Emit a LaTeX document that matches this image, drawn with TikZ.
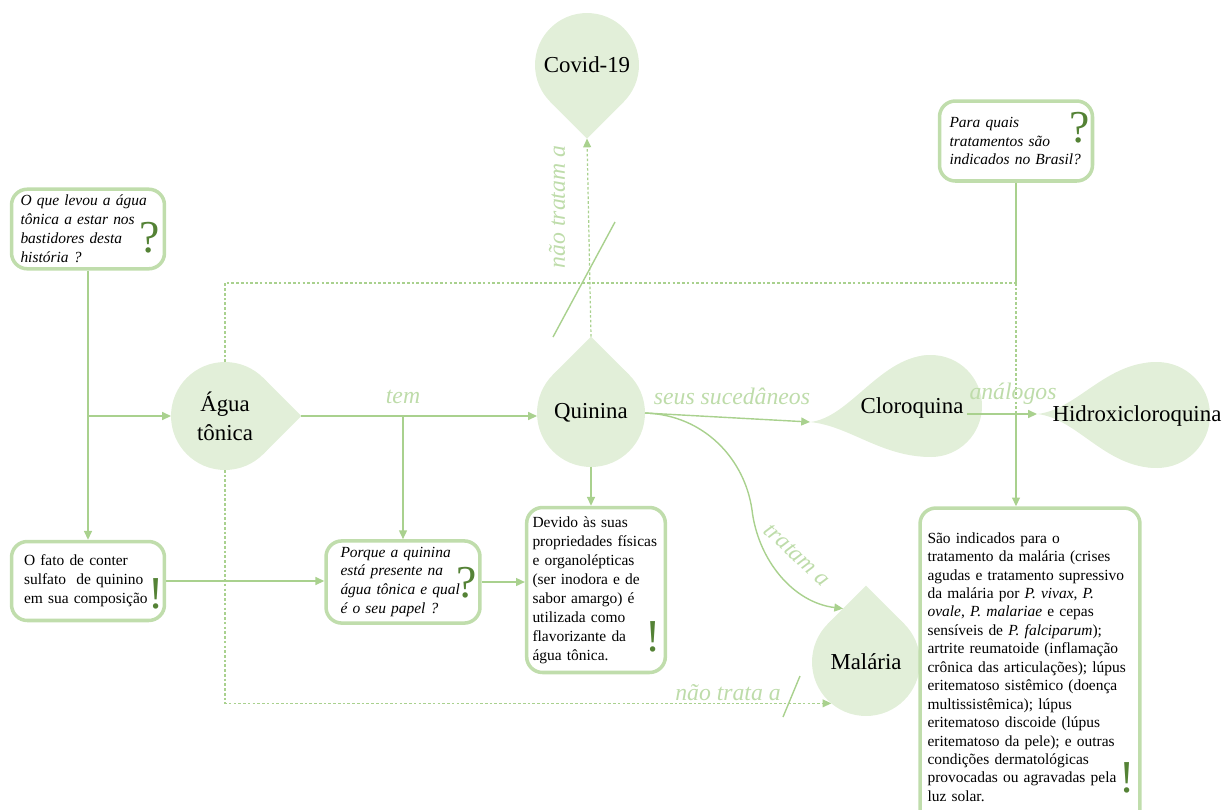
\documentclass[tikz,border=0pt]{standalone}
\usepackage{fontspec}
\setmainfont{Liberation Serif}
\usepackage{xcolor}
\usepackage{tikz}
\usetikzlibrary{arrows.meta, calc, backgrounds}

\definecolor{dropfill}{RGB}{226,239,217}
\definecolor{boxline}{RGB}{192,221,172}
\definecolor{linegreen}{RGB}{169,209,142}
\definecolor{lblgreen}{RGB}{190,220,170}
\definecolor{markgreen}{RGB}{84,130,53}

\begin{document}
\begin{tikzpicture}[x=0.02cm, y=-0.02cm,
    drop/.style={circle, fill=dropfill, inner sep=0pt, outer sep=0pt, align=center, font=\fontsize{13}{16.4}\selectfont},
    dtxt/.style={inner sep=2pt, font=\fontsize{13}{16}\selectfont},
    qbox/.style={draw=boxline, line width=2pt, rounded corners=9pt, fill=white, align=left, font=\fontsize{8.8}{10.8}\selectfont\itshape},
    ebox/.style={qbox, font=\fontsize{8.8}{10.8}\selectfont},
    sign/.style={inner sep=0pt, text=markgreen, font=\fontsize{26}{26}\selectfont},
    lbl/.style={text=lblgreen, inner sep=1pt, font=\fontsize{13.5}{15}\selectfont\itshape},
    ln/.style={draw=linegreen, line width=0.8pt},
    arr/.style={ln, -{Triangle[length=5pt, width=4.5pt]}},
    dsh/.style={draw=linegreen, line width=0.7pt, dash pattern=on 1.5pt off 1.2pt},
]
\useasboundingbox (0,0) rectangle (1224,809);

% Drops
\node[drop, minimum size=2.16cm] (agua) at (225,416) {Água\\tônica};
\node[drop, minimum size=2.16cm] (qui) at (591,413) {Quinina};
\node[drop, minimum size=2.08cm] (cov) at (587,65) {Covid-19};
\node[drop, minimum size=2.16cm] (mal) at (866,662) {Malária};
\node[drop, minimum size=2.04cm] (clo) at (931,406) {};
\node[drop, minimum size=2.12cm] (hid) at (1157,415) {};
\node[dtxt] (clotxt) at (912,408) {Cloroquina};
\node[dtxt] (hidtxt) at (1137,416) {Hidroxicloroquina};

\coordinate (aguatip) at ($(agua.center)!1.414!(agua.east)$);
\coordinate (quitip) at ($(qui.center)!1.414!(qui.north)$);
\coordinate (covtip) at ($(cov.center)!1.414!(cov.south)$);
\coordinate (maltip) at ($(mal.center)!1.414!(mal.north)$);
\coordinate (clotip) at (810,422);
\coordinate (hidtip) at (1037,414);

\begin{scope}[on background layer]
\fill[dropfill] (agua.45) -- (aguatip) -- (agua.-45) -- cycle;
\fill[dropfill] (qui.45) -- (quitip) -- (qui.135) -- cycle;
\fill[dropfill] (cov.-45) -- (covtip) -- (cov.-135) -- cycle;
\fill[dropfill] (mal.45) -- (maltip) -- (mal.135) -- cycle;
\fill[dropfill] (clotip) .. controls +(40,-4) and +(-50,0) .. (clo.north) -- (clo.south) .. controls +(-50,0) and +(40,4) .. (clotip);
\fill[dropfill] (hidtip) .. controls +(40,-4) and +(-52,0) .. (hid.north) -- (hid.south) .. controls +(-52,0) and +(40,4) .. (hidtip);
\end{scope}

% Question and answer boxes
\node[qbox, minimum width=3.06cm, minimum height=1.56cm, text width=2.7cm] (q1) at (88,229)
  {O que levou a água\\tônica a estar nos\\bastidores desta\\história ?};
\node[ebox, minimum width=3.06cm, minimum height=1.58cm, text width=2.56cm] (e1) at (88,581)
  {O fato de conter\\sulfato \ de quinino\\em sua composição};
\node[qbox, minimum width=3.08cm, minimum height=1.58cm, text width=2.5cm] (q3) at (403,582)
  {Porque a quinina\\está presente na\\água tônica e qual\\é o seu papel ?};
\node[ebox, minimum width=2.76cm, minimum height=3.3cm, text width=2.54cm] (e2) at (596,590)
  {Devido às suas\\propriedades físicas\\e organolépticas\\(ser inodora e de\\sabor amargo) é\\utilizada como\\flavorizante da\\água tônica.};
\node[qbox, minimum width=3.06cm, minimum height=1.6cm, text width=2.66cm] (q2) at (1016,141)
  {Para quais\\tratamentos são\\indicados no Brasil?};
\node[ebox, minimum width=4.4cm, minimum height=6.36cm, text width=4.1cm, font=\fontsize{8.8}{10.5}\selectfont] (e3) at (1030,667)
  {São indicados para o\\tratamento da malária (crises\\agudas e tratamento supressivo\\da malária por \textit{P. vivax}, \textit{P.}\\\textit{ovale}, \textit{P. malariae} e cepas\\sensíveis de \textit{P. falciparum});\\artrite reumatoide (inflamação\\crônica das articulações); lúpus\\eritematoso sistêmico (doença\\multissistêmica); lúpus\\eritematoso discoide (lúpus\\eritematoso da pele); e outras\\condições dermatológicas\\provocadas ou agravadas pela\\luz solar.};

% Signs
\node[sign] (q1s) at (150,238) {?};
\node[sign] (e1s) at (156,594) {!};
\node[sign] (q3s) at (467,583) {?};
\node[sign] (e2s) at (653,637) {!};
\node[sign] (q2s) at (1080,128) {?};
\node[sign] (e3s) at (1127,778) {!};

% Arrows
\draw[arr] (q1.south) -- (e1.north);
\draw[arr] (q1.south |- agua.west) -- (agua.west);
\draw[arr] (aguatip) -- (aguatip -| qui.west);
\draw[arr] (aguatip -| q3.north) -- (q3.north);
\draw[arr] (e1.east) -- (e1.east -| q3.west);
\draw[arr] (q3.east) -- (q3.east -| e2.west);
\draw[arr] (qui.south) -- (qui.south |- e2.north);
\draw[arr] (qui.east) -- (clotip);
\coordinate (trbend) at (752,510);
\draw[arr] (qui.east) .. controls +(60,2) and +(-7,-50) .. (trbend) .. controls +(6,50) and +(-50,-6) .. ($(maltip)!0.6!(mal.135)$);
\draw[arr] (clotxt.east |- hidtip) -- (hidtip);

\coordinate (jtop) at (1016,283);
\draw[ln] (q2.south) -- (jtop);
\draw[dsh] (jtop) -- (q2.south |- hidtip);
\draw[arr] (q2.south |- hidtip) -- (q2.south |- e3.north);

\draw[dsh] (agua.north) |- (jtop);
\draw[arr, dsh] (agua.south) |- (mal.-130);
\draw[arr, dsh] (quitip) -- (covtip);

% Slashes
\draw[ln] (553,337) -- (615,222);
\draw[ln] (783,717) -- (800,676);

% Labels
\node[lbl] (ltem) at (403,397) {tem};
\node[lbl] (lsuc) at (732,396) {seus sucedâneos};
\node[lbl] (lana) at (1013,394) {análogos};
\node[lbl, rotate=90] (lcov) at (557,207) {não tratam a};
\node[lbl, rotate=-43] (ltra) at (797,555) {tratam a};
\node[lbl] (lnao) at (728,693) {não trata a};

\end{tikzpicture}
\end{document}
